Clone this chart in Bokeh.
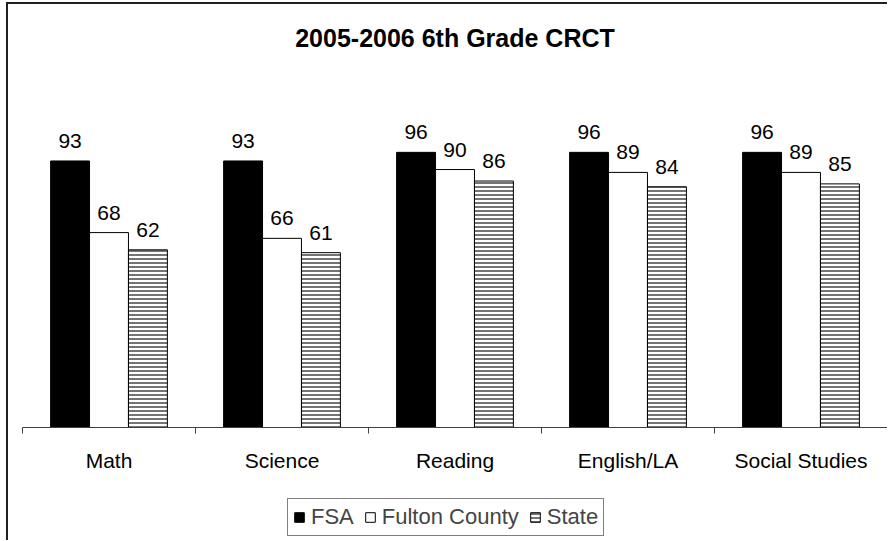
from bokeh.plotting import figure
from bokeh.layouts import column
from bokeh.models import (ColumnDataSource, Range1d, LinearAxis, FixedTicker,
                          Label, LabelSet, Legend, LegendItem)
from bokeh.core.properties import value
from bokeh.transform import dodge
from bokeh.embed import file_html
from bokeh.resources import INLINE

# ---- data ----
categories = ["Math", "Science", "Reading", "English/LA", "Social Studies"]
fsa = [93, 93, 96, 96, 96]
fulton = [68, 66, 90, 89, 89]
state = [62, 61, 86, 84, 85]
series_names = ["FSA", "Fulton County", "State"]
title_text = "2005-2006 6th Grade CRCT"
y_min, y_max = 0, 112

FONT = "Liberation Sans"
BAR_W = 0.225
W = 879

n = len(categories)
pos = [i + 0.5 for i in range(n)]          # category centres on a numeric axis
bounds = [i for i in range(n + 1)]          # category boundaries (tick marks)

src = ColumnDataSource(dict(
    pos=pos,
    fsa=fsa, fulton=fulton, state=state,
    fsa_t=[str(v) for v in fsa],
    fulton_t=[str(v) for v in fulton],
    state_t=[str(v) for v in state],
))

cols = ["fsa", "fulton", "state"]
offsets = [-BAR_W, 0, BAR_W]
bar_styles = [
    dict(fill_color="black", line_color="black"),
    dict(fill_color="white", line_color="black"),
    dict(fill_color="white", line_color="black", hatch_pattern="horizontal_line",
         hatch_color="#505050", hatch_scale=4, hatch_weight=1.6),
]


def bare(fig):
    fig.outline_line_color = None
    fig.background_fill_color = "white"
    fig.border_fill_color = "white"
    fig.grid.visible = False


# ---- title strip ----
pt = figure(width=W, height=96, x_range=Range1d(0, 1), y_range=Range1d(0, 1),
            output_backend="svg", toolbar_location=None,
            x_axis_location=None, y_axis_location=None,
            min_border_left=14, min_border_right=0, min_border_top=0, min_border_bottom=0)
bare(pt)
pt.add_layout(Label(x=0.5, y=0.646, text=title_text, text_align="center",
                    text_baseline="middle", text_font=FONT, text_font_size="25px",
                    text_font_style="bold", text_color="black"))

# ---- main chart ----
p = figure(x_range=Range1d(0, n), y_range=Range1d(y_min, y_max),
           width=W, height=390, output_backend="svg", toolbar_location=None,
           x_axis_location=None, y_axis_location=None,
           min_border_left=14, min_border_right=0, min_border_top=6, min_border_bottom=63)
bare(p)

ax1 = LinearAxis(ticker=FixedTicker(ticks=bounds),
                 major_tick_out=6, major_tick_in=0, minor_tick_line_color=None,
                 axis_line_color="#404040", major_tick_line_color="#404040",
                 major_label_text_font_size="0px", major_label_text_color=None,
                 major_label_standoff=0)
p.add_layout(ax1, "below")

ax2 = LinearAxis(ticker=FixedTicker(ticks=pos),
                 major_label_overrides={pv: c for pv, c in zip(pos, categories)},
                 axis_line_color=None, major_tick_line_color=None, minor_tick_line_color=None,
                 major_tick_out=0, major_tick_in=0, major_label_standoff=15,
                 major_label_text_font=FONT, major_label_text_font_size="21px",
                 major_label_text_color="black")
p.add_layout(ax2, "below")

for off, col, st in zip(offsets, cols, bar_styles):
    p.vbar(x=dodge("pos", off), top=col, width=BAR_W, bottom=0,
           source=src, line_width=1, **st)
    p.add_layout(LabelSet(x=dodge("pos", off), y=col, text=col + "_t",
                          source=src, text_align="center", text_baseline="alphabetic",
                          y_offset=13, text_font=value(FONT), text_font_size="21px",
                          text_color="black"))

# ---- legend strip (legend proxies sit outside this strip's visible range) ----
pl = figure(width=W, height=50, x_range=Range1d(-3, -2), y_range=Range1d(0, 1),
            output_backend="svg", toolbar_location=None,
            x_axis_location=None, y_axis_location=None,
            min_border_left=0, min_border_right=0, min_border_top=0, min_border_bottom=0)
bare(pl)
leg_renderers = [pl.vbar(x="pos", top=col, width=BAR_W, source=src, line_width=1, **st)
                 for col, st in zip(cols, bar_styles)]
legend = Legend(items=[LegendItem(label=s, renderers=[r]) for s, r in zip(series_names, leg_renderers)],
                orientation="horizontal", location=(265, 4),
                border_line_color="black", border_line_width=1,
                label_text_font=FONT, label_text_font_size="22px",
                glyph_width=12, glyph_height=12, label_standoff=6, spacing=10,
                padding=5, margin=0, background_fill_color="white", background_fill_alpha=1)
pl.add_layout(legend, "center")

layout = column(pt, p, pl, spacing=0)
layout.styles = {"margin-left": "6px", "margin-top": "2px",
                 "border-left": "2px solid #202020", "border-top": "2px solid #202020"}

open("out.html", "w").write(file_html(layout, INLINE))
